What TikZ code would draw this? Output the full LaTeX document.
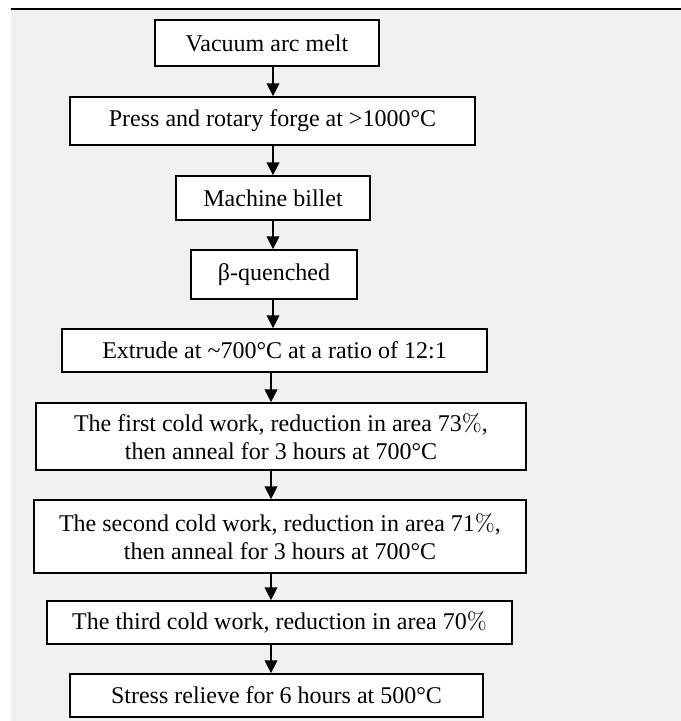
\documentclass[tikz,border=0pt]{standalone}
\usepackage{fontspec}
\setmainfont{Liberation Serif}
\newfontfamily\lmfont{lmroman10-regular.otf}
\usetikzlibrary{arrows.meta}
\newcommand{\pct}{{\lmfont\%}}
\definecolor{bggray}{RGB}{241,241,241}
\begin{document}
\begin{tikzpicture}[x=0.75pt,y=-0.75pt,
  stepbox/.style={draw=black, line width=1.3pt, fill=white, inner sep=0pt,
    align=center, font=\fontsize{18pt}{21pt}\selectfont},
  arr/.style={line width=1pt, -{Triangle[length=9.5pt,width=9.5pt]}}]
\useasboundingbox (0,0) rectangle (681,721);
\fill[white] (0,0) rectangle (681,721);
\fill[bggray] (11,10) rectangle (681,721);
\draw[line width=1.5pt] (11,9) -- (681,9);

\coordinate (ax) at (273,0);
\coordinate (bx) at (271,0);

\node[stepbox, minimum width=168pt, minimum height=34.5pt] (n1) at (267,43) {Vacuum arc melt};
\node[stepbox, minimum width=303.75pt, minimum height=36pt] (n2) at (272.5,121) {Press and rotary forge at >1000°C};
\node[stepbox, minimum width=145.5pt, minimum height=33pt] (n3) at (273,198) {Machine billet};
\node[stepbox, minimum width=124.5pt, minimum height=36.75pt] (n4) at (274,274.5) {β-quenched};
\node[stepbox, minimum width=318.75pt, minimum height=32.25pt] (n5) at (274.5,350.5) {Extrude at \textasciitilde700°C at a ratio of 12:1};
\node[stepbox, minimum width=367.5pt, minimum height=50.25pt] (n6) at (281,436.5) {The first cold work, reduction in area 73\pct,\\then anneal for 3 hours at 700°C};
\node[stepbox, minimum width=369pt, minimum height=54.75pt] (n7) at (280,536.5) {The second cold work, reduction in area 71\pct,\\then anneal for 3 hours at 700°C};
\node[stepbox, minimum width=348.75pt, minimum height=32.25pt] (n8) at (279.5,622.5) {The third cold work, reduction in area 70\pct};
\node[stepbox, minimum width=309.75pt, minimum height=32.25pt] (n9) at (276.5,695.5) {Stress relieve for 6 hours at 500°C};

\draw[arr] (n1.south -| ax) -- (n2.north -| ax);
\draw[arr] (n2.south -| ax) -- (n3.north -| ax);
\draw[arr] (n3.south -| ax) -- (n4.north -| ax);
\draw[arr] (n4.south -| ax) -- (n5.north -| ax);
\draw[arr] (n5.south -| bx) -- (n6.north -| bx);
\draw[arr] (n6.south -| bx) -- (n7.north -| bx);
\draw[arr] (n7.south -| bx) -- (n8.north -| bx);
\draw[arr] (n8.south -| bx) -- (n9.north -| bx);
\end{tikzpicture}
\end{document}
